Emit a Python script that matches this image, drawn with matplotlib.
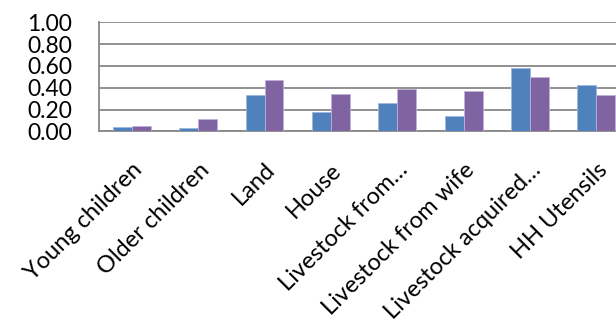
import matplotlib
matplotlib.use("Agg")
import matplotlib.pyplot as plt
import numpy as np

categories = ["Young children", "Older children", "Land", "House",
              "Livestock from\u2026", "Livestock from wife",
              "Livestock acquired\u2026", "HH Utensils"]
series_a = [0.04, 0.03, 0.33, 0.18, 0.26, 0.14, 0.58, 0.425]
series_b = [0.05, 0.11, 0.47, 0.34, 0.385, 0.37, 0.50, 0.33]
y_ticks = [0.0, 0.2, 0.4, 0.6, 0.8, 1.0]
y_tick_labels = ["0.00", "0.20", "0.40", "0.60", "0.80", "1.00"]

plt.rcParams["font.family"] = ["Lato", "DejaVu Sans"]

W, H = 616, 320
fig = plt.figure(figsize=(W / 100, H / 100), dpi=100)
# plot area runs past the right edge of the canvas
left_px, right_px, top_px, bottom_px = 98.7, 629.4, 22.3, 131.3
ax = fig.add_axes([left_px / W, 1 - bottom_px / H,
                   (right_px - left_px) / W, (bottom_px - top_px) / H])

x = np.arange(len(categories))
bw = 1 / 3.5
ax.bar(x - bw / 2, series_a, width=bw, color="#4F81BD",
       edgecolor="#9DB9DE", linewidth=0.6, zorder=3)
ax.bar(x + bw / 2, series_b, width=bw, color="#8064A2",
       edgecolor="#C0B0D6", linewidth=0.6, zorder=3)

ax.set_xlim(-0.5, len(categories) - 0.5)
ax.set_ylim(0, 1.0)
ax.set_yticks(y_ticks)
ax.set_yticklabels(y_tick_labels, fontsize=16.5)
ax.yaxis.grid(True, color="#888888", linewidth=1.3, zorder=0)
ax.set_axisbelow(True)

ax.set_xticks(x)
ax.set_xticklabels(categories, fontsize=17, rotation=45, ha="right",
                   va="top", rotation_mode="anchor")
ax.tick_params(axis="x", length=0, pad=20)
ax.tick_params(axis="y", length=0, pad=19)

for side in ("top", "right"):
    ax.spines[side].set_visible(False)
for side in ("left", "bottom"):
    ax.spines[side].set_color("#888888")
    ax.spines[side].set_linewidth(1.3)

fig.savefig("out.png", dpi=100)
